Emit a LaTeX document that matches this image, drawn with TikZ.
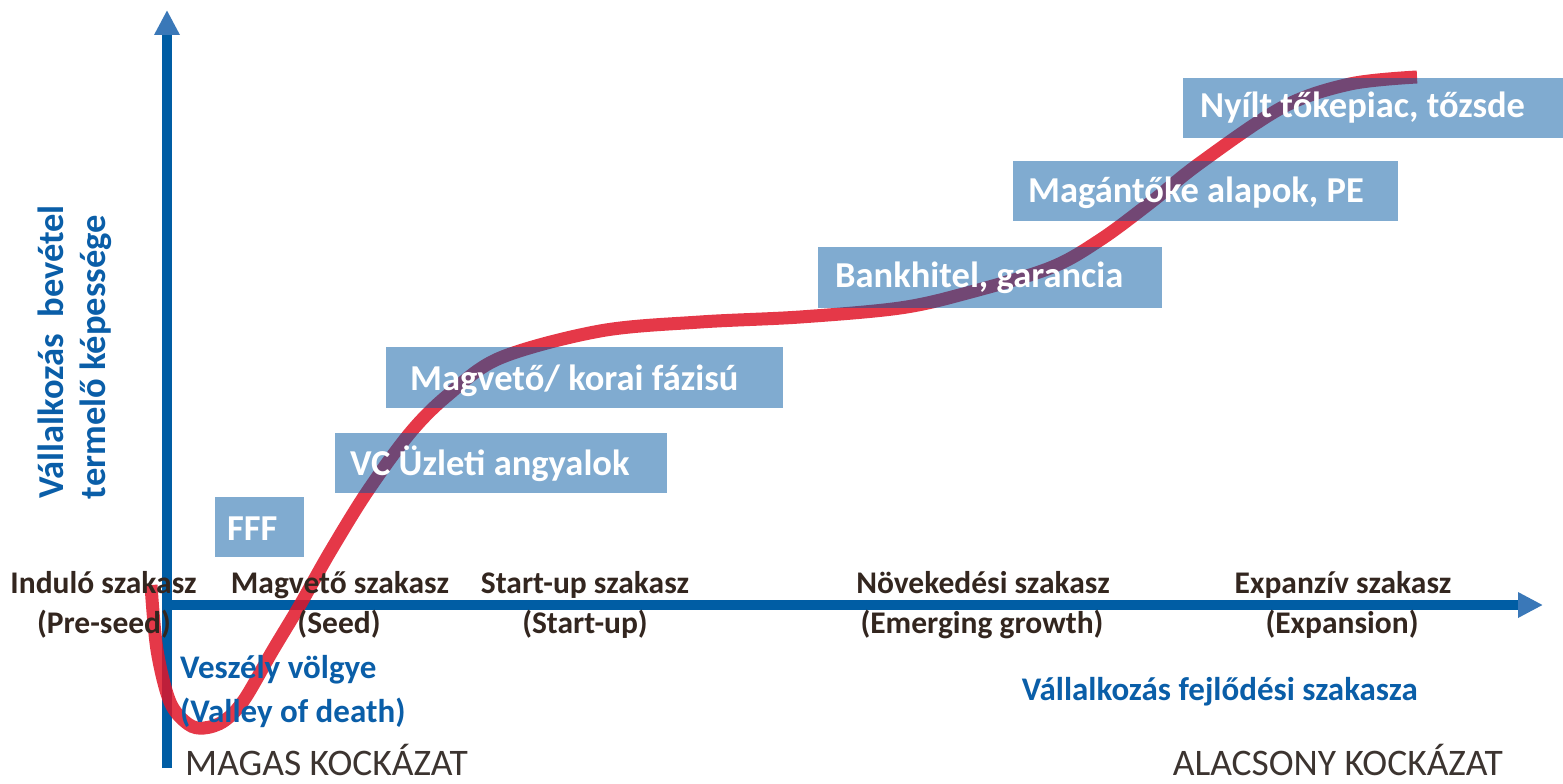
\documentclass[tikz,border=0pt]{standalone}
\usepackage{fontspec}
\usepackage{graphicx}
\setmainfont{Carlito}
\usetikzlibrary{arrows.meta}
\definecolor{axblue}{RGB}{0,93,164}
\definecolor{tipblue}{RGB}{58,120,184}
\definecolor{curvered}{RGB}{224,21,40}
\definecolor{boxblue}{RGB}{1,87,161}
\definecolor{stagebrown}{RGB}{51,38,31}
\definecolor{riskgray}{RGB}{60,52,48}
\definecolor{labelblue}{RGB}{10,94,168}
\begin{document}
\begin{tikzpicture}[x=1pt,y=-1pt,
  axis/.style={line width=10pt, draw=axblue, -{Triangle[length=25pt,width=24pt,color=tipblue]}},
  riskcurve/.style={line width=13pt, draw=curvered, draw opacity=0.85},
  finbox/.style={fill=boxblue, fill opacity=0.5, draw=none, inner sep=0pt, anchor=north west},
  fintext/.style={text=white, font=\fontsize{36.5}{40}\selectfont\bfseries, anchor=base west, inner sep=0pt},
  stage/.style={text=stagebrown, font=\fontsize{31.5}{36}\selectfont\bfseries, anchor=base, inner sep=0pt},
  bluelabel/.style={text=labelblue, font=\fontsize{33}{38}\selectfont\bfseries, inner sep=0pt},
  vlabel/.style={text=labelblue, font=\fontsize{36.5}{40}\selectfont\bfseries, inner sep=0pt, rotate=90, anchor=base},
  risk/.style={text=riskgray, font=\fontsize{37.5}{40}\selectfont, inner sep=0pt}
]
\useasboundingbox (0,0) rectangle (1563,784);

% axes
\coordinate (yaxB) at (167,768);
\coordinate (yaxT) at (167,10);
\coordinate (xaxL) at (167,605);
\coordinate (xaxR) at (1543,605);
\draw[axis] (yaxB) -- (yaxT);
\draw[axis] (xaxL) -- (xaxR);

% curve
\draw[riskcurve] plot[smooth, tension=0.55] coordinates {
 (151,585) (157,650) (170,702) (188,724) (204,728) (224,721) (244,700) (273,650)
 (300,605) (330,552) (367,492) (410,433) (448,395) (500,358) (600,331) (700,322)
 (800,317) (900,308) (967,293) (1050,268) (1100,240) (1150,203) (1200,163)
 (1283,107) (1350,84) (1417,77)};

% boxes
\node[finbox, minimum width=89pt, minimum height=60pt] (bFFF) at (215,497) {};
\node[finbox, minimum width=332pt, minimum height=60pt] (bVC) at (335,433) {};
\node[finbox, minimum width=397pt, minimum height=61pt] (bMag) at (386,347) {};
\node[finbox, minimum width=344pt, minimum height=61pt] (bBank) at (818,247) {};
\node[finbox, minimum width=385pt, minimum height=60pt] (bPE) at (1013,161) {};
\node[finbox, minimum width=380pt, minimum height=60pt] (bTozsde) at (1183,78) {};

\node[fintext] (tFFF) at (227,540) {FFF};
\node[fintext] (tVC) at (350,475) {VC Üzleti angyalok};
\node[fintext] (tMag) at (410,390) {Magvető/ korai fázisú};
\node[fintext] (tBank) at (835,287) {Bankhitel, garancia};
\node[fintext] (tPE) at (1028,202) {Magántőke alapok, PE};
\node[fintext] (tTozsde) at (1200,117) {Nyílt tőkepiac, tőzsde};

% stage labels
\node[stage] (s1a) at (103.5,593) {Induló szakasz};
\node[stage] (s1b) at (104,633) {(Pre-seed)};
\node[stage] (s2a) at (340,593) {Magvető szakasz};
\node[stage] (s2b) at (339,633) {(Seed)};
\node[stage] (s3a) at (585,593) {Start-up szakasz};
\node[stage] (s3b) at (585,633) {(Start-up)};
\node[stage] (s4a) at (983,593) {Növekedési szakasz};
\node[stage] (s4b) at (982,633) {(Emerging growth)};
\node[stage] (s5a) at (1343,593) {Expanzív szakasz};
\node[stage] (s5b) at (1342,633) {(Expansion)};

% blue labels
\node[bluelabel, anchor=base west] (valley1) at (180,678) {Veszély völgye};
\node[bluelabel, anchor=base west] (valley2) at (180,722) {(Valley of death)};
\node[bluelabel, anchor=base east] (xlabel) at (1418,700) {Vállalkozás fejlődési szakasza};
\node[vlabel] (ylabel1) at (63,352) {Vállalkozás\ \ bevétel};
\node[vlabel] (ylabel2) at (105,357) {termelő képessége};

% risk labels
\node[risk, anchor=base west] (riskhigh) at (185,775) {MAGAS KOCKÁZAT};
\node[risk, anchor=base east] (risklow) at (1503,775) {ALACSONY KOCKÁZAT};
\end{tikzpicture}
\end{document}
